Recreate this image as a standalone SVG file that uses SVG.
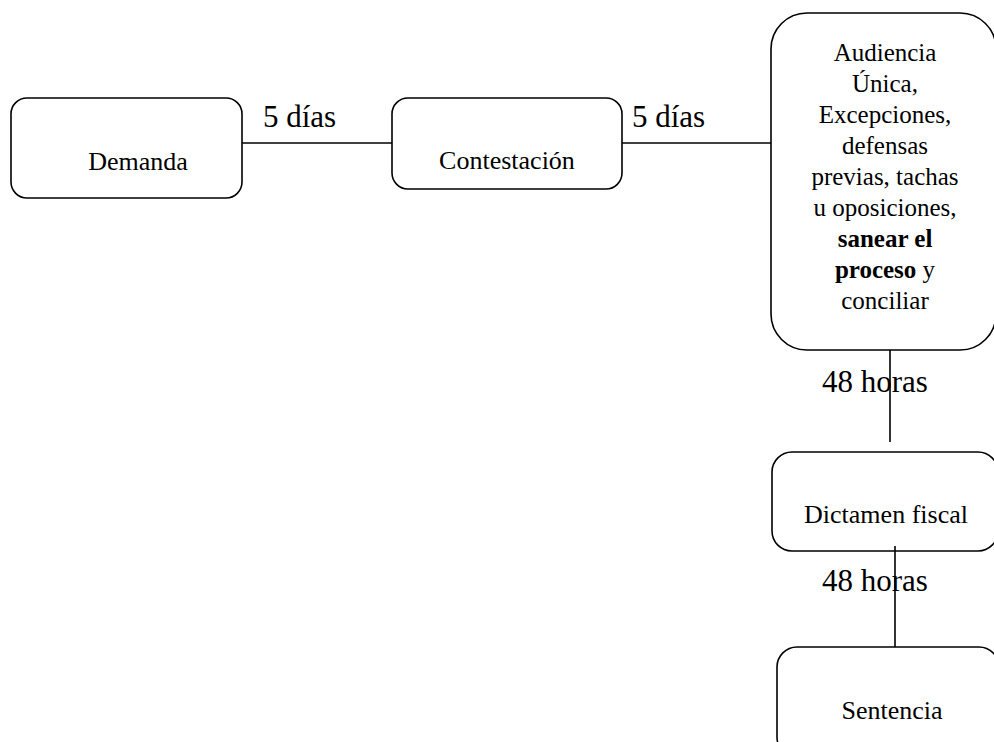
<svg xmlns="http://www.w3.org/2000/svg" width="994" height="742" viewBox="0 0 994 742" font-family="'Liberation Serif', 'Times New Roman', serif">
<style>
text{font-family:"Liberation Serif","Times New Roman",serif;fill:#000}
.box{fill:#fff;stroke:#000;stroke-width:1.6}
.t{font-size:26px;text-anchor:middle}
.b{font-size:25px}
.lbl{font-size:31px}
.c{stroke:#000;stroke-width:1.6;fill:none}
</style>
<rect width="994" height="742" fill="#fff"/>
<g id="demanda"><rect class="box" x="11" y="98" width="231" height="100" rx="16"/><text class="t" x="138" y="170">Demanda</text></g>
<g id="contestacion"><rect class="box" x="392" y="98" width="230" height="91" rx="16"/><text class="t" x="507" y="169">Contestación</text></g>
<g id="audiencia"><rect class="box" x="771" y="13" width="225" height="337" rx="36"/>
<text class="t b" x="885"><tspan x="885" y="61">Audiencia</tspan><tspan x="885" y="92">Única,</tspan><tspan x="885" y="123">Excepciones,</tspan><tspan x="885" y="154">defensas</tspan><tspan x="885" y="185">previas, tachas</tspan><tspan x="885" y="216">u oposiciones,</tspan><tspan x="885" y="247" font-weight="bold">sanear el</tspan><tspan x="885" y="278"><tspan font-weight="bold">proceso</tspan> y</tspan><tspan x="885" y="309">conciliar</tspan></text></g>
<g id="dictamen"><rect class="box" x="772" y="452" width="226" height="99" rx="20"/><text class="t" x="886" y="523">Dictamen fiscal</text></g>
<g id="sentencia"><rect class="box" x="777" y="647" width="222" height="110" rx="20"/><text class="t" x="892" y="719">Sentencia</text></g>
<g id="labels">
<text class="lbl" x="263" y="127">5 días</text>
<text class="lbl" x="632" y="127">5 días</text>
<text class="lbl" x="822" y="392">48 horas</text>
<text class="lbl" x="822" y="591">48 horas</text>
</g>
<g id="connectors">
<line class="c" x1="242" y1="143" x2="392" y2="143"/>
<line class="c" x1="622" y1="143" x2="771" y2="143"/>
<line class="c" x1="890" y1="350" x2="890" y2="442"/>
<line class="c" x1="895" y1="546" x2="895" y2="647"/>
</g>
</svg>
